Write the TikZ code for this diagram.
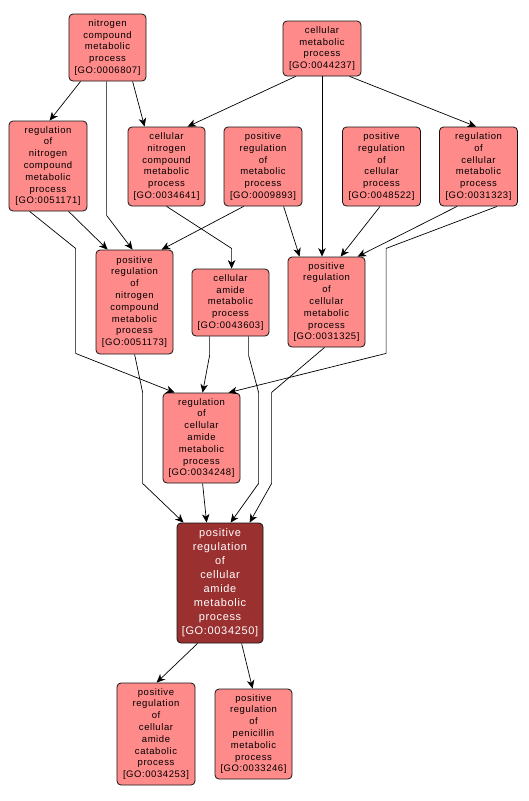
\documentclass[tikz,border=0pt]{standalone}
\usepackage{fontspec}
\usetikzlibrary{arrows.meta}
\newfontfamily\labfont[LetterSpace=6]{Liberation Sans}
\definecolor{lightnode}{RGB}{255,138,138}
\definecolor{darknode}{RGB}{155,48,48}
\definecolor{edgecol}{RGB}{20,20,20}
\tikzset{
  term/.style={draw=edgecol, line width=0.8pt, rounded corners=4pt, fill=lightnode,
    inner sep=0pt, align=center, text=black, font=\labfont\fontsize{9.5}{11.8}\selectfont},
  focus/.style={term, fill=darknode, text=white, font=\labfont\fontsize{11}{14}\selectfont},
  link/.style={draw=black, line width=0.7pt, -{Stealth[length=8.5pt,width=7.5pt,inset=2.5pt]}}
}
\begin{document}
\begin{tikzpicture}[x=1pt,y=-1pt]
\useasboundingbox (0,0) rectangle (528,801);
\fill[white] (0,0) rectangle (528,801);
\node[term, minimum width=77pt, minimum height=67pt] (n1) at (107.5,47.5) {nitrogen\\compound\\metabolic\\process\\{[GO:0006807]}};
\node[term, minimum width=78pt, minimum height=55pt] (n2) at (322,48.5) {cellular\\metabolic\\process\\{[GO:0044237]}};
\node[term, minimum width=78pt, minimum height=90pt] (n3) at (48,166) {regulation\\of\\nitrogen\\compound\\metabolic\\process\\{[GO:0051171]}};
\node[term, minimum width=77pt, minimum height=79pt] (n4) at (166.5,166.5) {cellular\\nitrogen\\compound\\metabolic\\process\\{[GO:0034641]}};
\node[term, minimum width=78pt, minimum height=79pt] (n5) at (263,166.5) {positive\\regulation\\of\\metabolic\\process\\{[GO:0009893]}};
\node[term, minimum width=78pt, minimum height=79pt] (n6) at (381.5,166.5) {positive\\regulation\\of\\cellular\\process\\{[GO:0048522]}};
\node[term, minimum width=78pt, minimum height=79pt] (n7) at (478.5,166.5) {regulation\\of\\cellular\\metabolic\\process\\{[GO:0031323]}};
\node[term, minimum width=77pt, minimum height=104pt] (n8) at (134.5,302) {positive\\regulation\\of\\nitrogen\\compound\\metabolic\\process\\{[GO:0051173]}};
\node[term, minimum width=77pt, minimum height=67pt] (n9) at (230.5,302.5) {cellular\\amide\\metabolic\\process\\{[GO:0043603]}};
\node[term, minimum width=77pt, minimum height=90pt] (n10) at (326.5,302) {positive\\regulation\\of\\cellular\\metabolic\\process\\{[GO:0031325]}};
\node[term, minimum width=77pt, minimum height=90pt] (n11) at (201.5,438) {regulation\\of\\cellular\\amide\\metabolic\\process\\{[GO:0034248]}};
\node[focus, minimum width=86pt, minimum height=120pt] (n12) at (220,583) {positive\\regulation\\of\\cellular\\amide\\metabolic\\process\\{[GO:0034250]}};
\node[term, minimum width=78pt, minimum height=102pt] (n13) at (156,734) {positive\\regulation\\of\\cellular\\amide\\catabolic\\process\\{[GO:0034253]}};
\node[term, minimum width=77pt, minimum height=90pt] (n14) at (253.5,734) {positive\\regulation\\of\\penicillin\\metabolic\\process\\{[GO:0033246]}};

\draw[link] ([xshift=12pt]n1.south west) -- ([xshift=41pt]n3.north west);
\draw[link] ([xshift=64pt]n1.south west) -- ([xshift=17pt]n4.north west);
\draw[link] ([xshift=38pt]n1.south west) -- ++(0,134) -- ([xshift=37pt]n8.north west);
\draw[link] ([xshift=13pt]n2.south west) -- ([xshift=60pt]n4.north west);
\draw[link] (n2.south) -- (n2.south |- n10.north);
\draw[link] ([xshift=67pt]n2.south west) -- ([xshift=37pt]n7.north west);
\draw[link] ([xshift=60pt]n3.south west) -- ([xshift=12pt]n8.north west);
\draw[link] ([xshift=21pt]n3.south west) -- ++(46,37) -- ++(0,105) -- ([xshift=12pt]n11.north west);
\draw[link] ([xshift=39pt]n4.south west) -- ++(65,42) -- ([xshift=40pt]n9.north west);
\draw[link] ([xshift=20pt]n5.south west) -- ([xshift=66pt]n8.north west);
\draw[link] ([xshift=60pt]n5.south west) -- ([xshift=12pt]n10.north west);
\draw[link] ([xshift=38pt]n6.south west) -- ([xshift=53pt]n10.north west);
\draw[link] ([xshift=18pt]n7.south west) -- ([xshift=70pt]n10.north west);
\draw[link] ([xshift=58pt]n7.south west) -- ++(-111,42) -- ++(0,105) -- ([xshift=66pt]n11.north west);
\draw[link] ([xshift=39pt]n8.south west) -- ++(8,38) -- ++(0,91) -- ([xshift=7pt]n12.north west);
\draw[link] ([xshift=18pt]n9.south west) -- ++(0,19) -- ([xshift=40pt]n11.north west);
\draw[link] ([xshift=57pt]n9.south west) -- ++(0,19) -- ++(10,37) -- ++(0,91) -- ([xshift=54pt]n12.north west);
\draw[link] ([xshift=37pt]n10.south west) -- ++(-53,45) -- ++(0,91) -- ([xshift=73pt]n12.north west);
\draw[link] ([xshift=40pt]n11.south west) -- ([xshift=30pt]n12.north west);
\draw[link] ([xshift=21pt]n12.south west) -- ([xshift=40pt]n13.north west);
\draw[link] ([xshift=65pt]n12.south west) -- ([xshift=38pt]n14.north west);
\end{tikzpicture}
\end{document}
